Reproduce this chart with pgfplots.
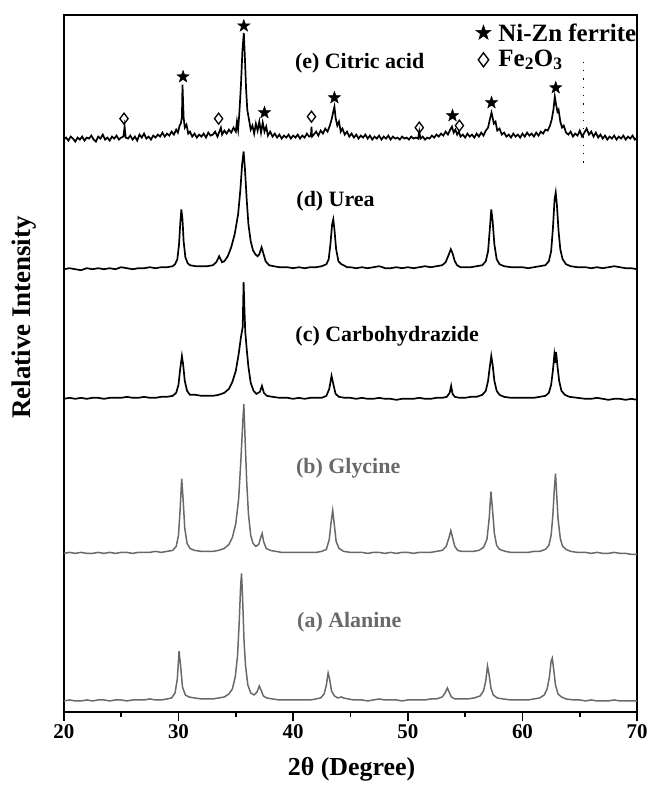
\documentclass[border=0pt]{standalone}
\usepackage{fontspec}
\setmainfont{Liberation Serif}
\usepackage{pgfplots}
\usepackage{pgfplotstable}
\pgfplotsset{compat=1.18}
\usetikzlibrary{plotmarks}

% filled five-pointed star used to flag the ferrite reflections
\pgfdeclareplotmark{fivestar}{%
  \pgfpathmoveto{\pgfpointpolar{90}{\pgfplotmarksize}}%
  \pgfpathlineto{\pgfpointpolar{126}{0.4\pgfplotmarksize}}%
  \pgfpathlineto{\pgfpointpolar{162}{\pgfplotmarksize}}%
  \pgfpathlineto{\pgfpointpolar{198}{0.4\pgfplotmarksize}}%
  \pgfpathlineto{\pgfpointpolar{234}{\pgfplotmarksize}}%
  \pgfpathlineto{\pgfpointpolar{270}{0.4\pgfplotmarksize}}%
  \pgfpathlineto{\pgfpointpolar{306}{\pgfplotmarksize}}%
  \pgfpathlineto{\pgfpointpolar{342}{0.4\pgfplotmarksize}}%
  \pgfpathlineto{\pgfpointpolar{18}{\pgfplotmarksize}}%
  \pgfpathlineto{\pgfpointpolar{54}{0.4\pgfplotmarksize}}%
  \pgfpathclose
  \pgfusepathqfillstroke
}

\definecolor{lightrun}{RGB}{105,105,105}
\newcommand\lab{\bfseries\fontsize{22}{22}\selectfont}
\newcommand\keyfont{\bfseries\fontsize{25}{25}\selectfont}

% XRD patterns, intensity given above each pattern's own baseline
\pgfplotstableread{
x y
20.0 0
20.5 1
21.0 0
21.5 -1
22.0 1
22.5 0
23.0 1
23.5 0
24.0 1
24.5 0
25.0 2
25.5 1
26.0 0
26.5 1
27.0 1
27.5 2
28.0 1
28.5 2
29.0 2
29.5 3
29.7 5
29.9 10
30.05 25
30.15 45
30.25 60
30.35 50
30.45 28
30.6 12
30.8 6
31.0 4
31.5 3
32.0 3
32.5 3
33.0 4
33.3 7
33.55 13
33.8 7
34.0 8
34.3 13
34.6 22
34.9 35
35.2 55
35.4 80
35.55 105
35.68 118
35.8 100
35.95 70
36.1 45
36.3 28
36.5 19
36.7 15
36.9 13
37.05 15
37.25 22
37.4 16
37.6 8
37.9 4
38.3 3
38.8 2
39.5 2
40.0 1
40.5 2
41.0 1
41.5 2
42.0 2
42.5 3
42.9 5
43.1 10
43.25 25
43.4 45
43.5 50
43.6 40
43.75 20
43.95 8
44.2 5
44.4 4
44.7 2
45.0 2
45.5 1
46.0 2
46.5 1
47.0 2
47.5 3
47.8 2
48.0 1
48.5 1
49.0 2
49.5 1
50.0 2
50.5 1
51.0 2
51.5 3
52.0 2
52.5 3
53.0 4
53.3 7
53.55 14
53.75 20
53.9 16
54.1 8
54.3 4
54.6 2
55.0 2
55.5 2
56.0 3
56.5 4
56.8 8
57.0 18
57.15 40
57.28 60
57.4 48
57.55 25
57.75 10
58.0 5
58.4 3
59.0 2
59.5 2
60.0 2
60.5 1
61.0 2
61.5 3
62.0 4
62.3 8
62.5 18
62.65 40
62.8 70
62.9 77
63.0 65
63.15 38
63.3 20
63.5 10
63.8 5
64.2 3
64.8 2
65.5 2
66.0 1
66.5 2
67.0 1
67.5 2
68.0 3
68.5 2
69.0 1
69.5 1
70.0 0
}\urea

\pgfplotstableread{
x y
20.0 0
20.5 1
21.0 0
21.5 1
22.0 0
22.5 1
23.0 1
23.5 0
24.0 1
24.5 1
25.0 1
25.5 2
26.0 1
26.5 1
27.0 2
27.5 1
28.0 1
28.5 2
29.0 2
29.5 3
29.8 6
30.0 14
30.15 30
30.3 43
30.4 35
30.55 18
30.75 8
31.0 4
31.5 4
32.0 3
32.5 3
33.0 3
33.5 4
34.0 6
34.4 10
34.7 17
35.0 28
35.25 45
35.45 62
35.6 72
35.68 117
35.74 95
35.82 68
35.95 50
36.1 32
36.3 16
36.55 8
36.8 5
37.1 7
37.28 13
37.45 6
37.7 3
38.2 2
38.8 1
39.5 1
40.0 0
40.5 1
41.0 0
41.5 1
42.0 1
42.5 1
42.9 3
43.15 10
43.35 23
43.5 15
43.7 5
44.0 2
44.5 1
45.0 1
45.5 0
46.0 1
46.5 0
47.0 0
47.5 1
48.0 0
48.5 0
49.0 -1
49.5 0
50.0 0
50.5 0
51.0 1
51.5 0
52.0 0
52.5 1
53.0 1
53.4 2
53.65 6
53.78 13
53.9 5
54.1 2
54.5 1
55.0 1
55.5 2
56.0 2
56.5 4
56.8 8
57.0 18
57.15 32
57.28 43
57.4 34
57.55 18
57.75 8
58.0 4
58.4 2
59.0 1
59.5 1
60.0 1
60.5 1
61.0 1
61.5 2
62.0 3
62.3 6
62.5 14
62.65 28
62.78 44
62.86 36
62.93 47
63.05 33
63.2 18
63.4 8
63.7 4
64.1 2
64.8 1
65.5 0
66.0 0
66.5 1
67.0 0
67.5 -1
68.0 0
68.5 0
69.0 -1
69.5 0
70.0 -1
}\carbo

\pgfplotstableread{
x y
20.0 0
20.5 1
21.0 0
21.5 1
22.0 0
22.5 0
23.0 1
23.5 0
24.0 1
24.5 0
25.0 1
25.5 1
26.0 0
26.5 1
27.0 1
27.5 1
28.0 2
28.5 1
29.0 2
29.5 3
29.8 7
30.0 18
30.15 45
30.28 75
30.4 55
30.55 25
30.75 10
31.0 5
31.4 3
32.0 2
32.5 2
33.0 2
33.5 3
34.0 5
34.4 9
34.7 16
35.0 30
35.25 55
35.45 95
35.6 130
35.7 150
35.8 118
35.95 72
36.1 40
36.3 18
36.5 10
36.75 7
37.0 9
37.2 17
37.3 20
37.42 12
37.65 5
38.0 3
38.5 2
39.0 1
39.5 1
40.0 1
40.5 1
41.0 1
41.5 1
42.0 1
42.5 2
42.9 4
43.15 14
43.32 32
43.45 43
43.58 30
43.75 12
44.0 5
44.4 2
45.0 1
45.5 1
46.0 1
46.5 0
47.0 1
47.5 1
48.0 0
48.5 1
49.0 0
49.5 1
50.0 1
50.5 0
51.0 1
51.5 1
52.0 1
52.5 2
53.0 3
53.35 7
53.6 16
53.75 23
53.9 16
54.1 7
54.35 3
54.7 2
55.2 2
55.7 2
56.2 3
56.6 6
56.9 14
57.1 35
57.25 62
57.38 45
57.55 20
57.75 8
58.0 4
58.5 2
59.0 1
59.5 1
60.0 1
60.5 1
61.0 2
61.5 2
62.0 4
62.3 8
62.5 18
62.65 38
62.78 65
62.88 80
62.98 60
63.1 35
63.3 15
63.5 7
63.8 4
64.2 2
64.8 1
65.5 1
66.0 0
66.5 1
67.0 0
67.5 0
68.0 1
68.5 0
69.0 0
69.5 -1
70.0 -1
}\glycine

\pgfplotstableread{
x y
20.0 0
20.5 1
21.0 0
21.5 0
22.0 1
22.5 0
23.0 1
23.5 1
24.0 0
24.5 1
25.0 1
25.5 0
26.0 1
26.5 1
27.0 1
27.5 2
28.0 1
28.5 1
29.0 2
29.4 3
29.7 8
29.9 22
30.05 50
30.18 36
30.35 14
30.6 6
30.9 4
31.4 3
32.0 2
32.5 2
33.0 2
33.5 3
34.0 4
34.4 7
34.7 12
34.95 24
35.15 45
35.3 80
35.42 115
35.5 128
35.6 100
35.72 60
35.85 35
36.05 16
36.3 8
36.6 6
36.85 9
37.05 15
37.2 11
37.4 5
37.7 3
38.2 2
38.8 1
39.5 1
40.0 1
40.5 1
41.0 1
41.5 1
42.0 2
42.4 3
42.7 7
42.9 16
43.05 28
43.18 22
43.35 10
43.6 5
43.9 3
44.2 4
44.4 3
44.8 2
45.3 1
46.0 1
46.5 0
47.0 1
47.5 2
48.0 1
48.5 1
49.0 1
49.5 0
50.0 1
50.5 1
51.0 1
51.5 1
52.0 2
52.5 2
53.0 4
53.25 8
53.45 13
53.6 9
53.8 4
54.1 2
54.6 2
55.2 2
55.8 3
56.3 5
56.6 10
56.8 20
56.95 35
57.08 27
57.25 13
57.45 6
57.8 3
58.3 2
59.0 1
59.5 1
60.0 1
60.5 1
61.0 2
61.5 3
61.9 6
62.15 12
62.35 24
62.5 40
62.6 43
62.72 32
62.88 16
63.1 7
63.4 4
63.8 2
64.5 1
65.0 1
65.5 0
66.0 1
66.5 0
67.0 0
67.5 0
68.0 1
68.5 0
69.0 0
69.5 0
70.0 0
}\alanine

\pgfplotstableread{
x y
20.0 0
20.2 2
20.4 -1
20.6 3
20.8 1
21.0 -2
21.2 2
21.4 0
21.6 3
21.8 -1
22.0 2
22.2 1
22.4 4
22.6 0
22.8 -2
23.0 3
23.2 1
23.4 5
23.6 0
23.8 2
24.0 -1
24.2 3
24.4 1
24.6 4
24.8 0
25.0 2
25.2 3
25.3 13
25.4 2
25.6 1
25.8 4
26.0 0
26.2 3
26.4 -1
26.6 5
26.8 2
27.0 6
27.2 1
27.4 3
27.6 0
27.8 4
28.0 2
28.2 5
28.4 3
28.6 7
28.8 3
29.0 6
29.2 4
29.4 8
29.6 5
29.8 10
29.95 7
30.1 14
30.2 16
30.3 22
30.35 55
30.45 22
30.55 12
30.7 15
30.85 6
31.0 8
31.2 3
31.4 6
31.6 2
31.8 5
32.0 3
32.2 6
32.4 2
32.6 7
32.8 4
33.0 5
33.2 8
33.4 3
33.6 9
33.7 12
33.8 5
34.0 9
34.2 6
34.4 10
34.6 7
34.8 12
35.0 8
35.1 18
35.2 10
35.3 25
35.45 55
35.58 90
35.7 107
35.8 80
35.9 50
36.0 30
36.15 20
36.3 10
36.45 14
36.6 6
36.75 16
36.9 9
37.05 18
37.2 7
37.35 17
37.5 8
37.65 13
37.8 4
38.0 8
38.2 3
38.4 6
38.6 2
38.8 5
39.0 1
39.2 4
39.4 2
39.6 5
39.8 1
40.0 4
40.2 2
40.4 5
40.6 1
40.8 4
41.0 2
41.2 6
41.4 3
41.55 4
41.6 13
41.65 3
41.8 5
42.0 8
42.2 4
42.4 9
42.6 6
42.8 11
43.0 8
43.2 14
43.35 20
43.5 28
43.6 33
43.7 22
43.85 14
44.0 18
44.15 8
44.3 11
44.5 5
44.7 8
44.9 3
45.1 6
45.3 2
45.5 5
45.7 1
45.9 4
46.1 2
46.3 5
46.5 1
46.7 4
46.9 0
47.1 3
47.3 1
47.5 4
47.7 0
47.9 3
48.1 1
48.3 4
48.5 0
48.7 3
48.9 1
49.1 2
49.3 0
49.5 3
49.7 1
49.9 2
50.1 0
50.3 3
50.5 1
50.7 2
50.9 1
51.0 8
51.1 1
51.3 3
51.5 0
51.7 2
51.9 1
52.1 4
52.3 2
52.5 5
52.7 3
52.9 6
53.1 4
53.3 8
53.5 5
53.7 10
53.85 13
54.0 7
54.15 10
54.3 5
54.45 8
54.6 3
54.8 5
55.0 2
55.2 6
55.4 3
55.6 5
55.8 2
56.0 6
56.2 3
56.4 7
56.6 4
56.8 9
57.0 12
57.15 20
57.3 27
57.4 22
57.5 16
57.65 18
57.8 9
58.0 11
58.2 5
58.4 7
58.6 3
58.8 5
59.0 2
59.2 6
59.4 3
59.6 5
59.8 2
60.0 6
60.2 3
60.4 7
60.6 4
60.8 6
61.0 3
61.2 7
61.4 4
61.6 8
61.8 6
62.0 10
62.2 9
62.4 14
62.55 20
62.7 30
62.82 43
62.92 36
63.05 28
63.15 30
63.3 18
63.45 12
63.6 14
63.8 7
64.0 5
64.2 8
64.4 3
64.6 6
64.8 4
65.0 9
65.2 3
65.4 7
65.6 11
65.8 5
66.0 8
66.2 3
66.4 7
66.6 2
66.8 5
67.0 1
67.2 4
67.4 0
67.6 3
67.8 1
68.0 4
68.2 0
68.4 3
68.6 1
68.8 4
69.0 0
69.2 3
69.4 1
69.6 4
69.8 0
70.0 2
}\citric

\begin{document}
\begin{tikzpicture}
\begin{axis}[
  scale only axis, width=575pt, height=699pt,
  xmin=20, xmax=70, ymin=0, ymax=699,
  axis line style={line width=2pt},
  xtick={20,30,...,70}, minor x tick num=1,
  xtick pos=left, ytick=\empty,
  tick align=outside,
  major tick length=9pt, minor tick length=5pt,
  every tick/.style={black, line width=1.6pt},
  /pgf/number format/assume math mode=true,
  xticklabel style={font=\bfseries\fontsize{21}{21}\selectfont},
  xlabel={2θ (Degree)},
  xlabel style={font=\bfseries\fontsize{26}{26}\selectfont, at={(axis description cs:0.502,-0.083)}, anchor=center},
  ylabel={Relative Intensity},
  ylabel style={font=\bfseries\fontsize{27}{27}\selectfont, at={(axis description cs:-0.069,0.566)}, anchor=center, rotate=0},
  clip=false,
]
% stacked patterns, each lifted to its own baseline
\addplot[black, line width=1.7pt] table[x=x, y expr=\thisrow{y}+574] {\citric};
\addplot[black, line width=1.7pt] table[x=x, y expr=\thisrow{y}+444] {\urea};
\addplot[black, line width=1.7pt] table[x=x, y expr=\thisrow{y}+314] {\carbo};
\addplot[lightrun, line width=1.5pt] table[x=x, y expr=\thisrow{y}+159] {\glycine};
\addplot[lightrun, line width=1.5pt] table[x=x, y expr=\thisrow{y}+11] {\alanine};

% phase markers on the citric-acid pattern
\addplot[only marks, mark=fivestar, mark size=6.5pt, black, line width=0.4pt]
  coordinates {(30.4,637) (35.7,688) (37.5,601) (43.6,616) (53.9,598) (57.3,611) (62.9,626)};
\addplot[only marks, mark=diamond, mark size=5.5pt, black, line width=1.3pt, fill=white]
  coordinates {(25.25,595) (33.5,595) (41.6,597) (51.0,586) (54.5,588)};

% key
\addplot[only marks, mark=fivestar, mark size=8pt, black, line width=0.4pt] coordinates {(56.6,681)};
\addplot[only marks, mark=diamond, mark size=7pt, black, line width=1.4pt, fill=white] coordinates {(56.6,654)};
\node[anchor=west, font=\keyfont] at (axis cs:57.6,681) {Ni-Zn ferrite};
\node[anchor=west, font=\keyfont] at (axis cs:57.6,654) {Fe\textsubscript{2}O\textsubscript{3}};

% dotted guide near 65 degrees
\addplot[black, line width=1.3pt, dash pattern=on 1.3pt off 7pt] coordinates {(65.3,551) (65.3,652)};

% pattern labels
\node[font=\lab] at (axis cs:45.8,651) {(e) Citric acid};
\node[font=\lab] at (axis cs:43.7,512) {(d) Urea};
\node[font=\lab] at (axis cs:48.2,377) {(c) Carbohydrazide};
\node[font=\lab, text=lightrun] at (axis cs:44.8,244) {(b) Glycine};
\node[font=\lab, text=lightrun] at (axis cs:44.9,90) {(a) Alanine};
\end{axis}
\path (-64pt,-71pt) rectangle (584pt,714pt);
\end{tikzpicture}
\end{document}
